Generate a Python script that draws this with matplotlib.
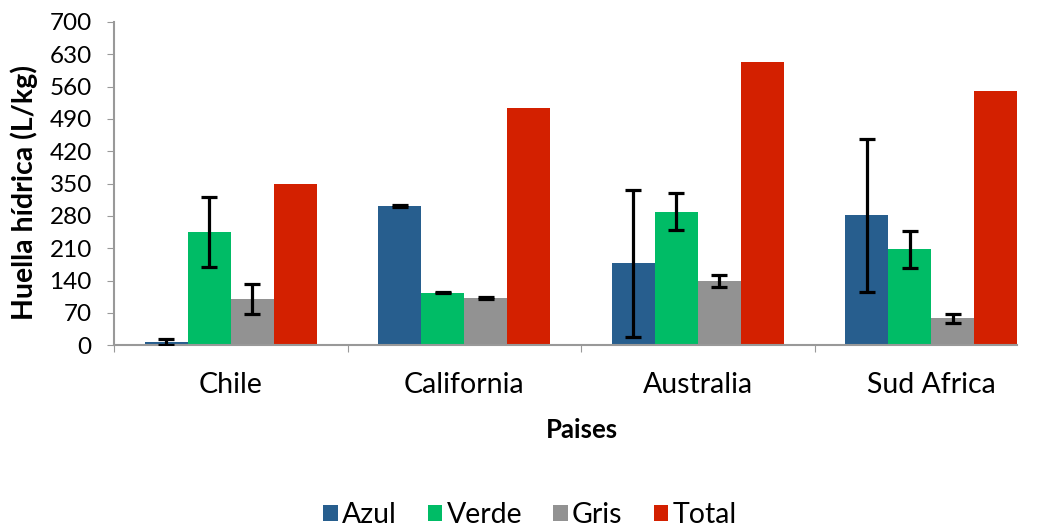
import matplotlib
matplotlib.use("Agg")
import matplotlib.pyplot as plt
import numpy as np

categories = ["Chile", "California", "Australia", "Sud Africa"]
series_names = ["Azul", "Verde", "Gris", "Total"]
azul = [7, 301, 177, 281]
verde = [245, 114, 289, 208]
gris = [100, 102, 139, 58]
total = [350, 513, 613, 551]
azul_err = [7, 2, 159, 165]
verde_err = [75, 2, 40, 40]
gris_err = [33, 2, 12, 10]
total_err = [None, None, None, None]
colors = ["#275E8E", "#00BC66", "#929292", "#D32000"]
yticks = [0, 70, 140, 210, 280, 350, 420, 490, 560, 630, 700]

plt.rcParams['font.family'] = ['Lato', 'DejaVu Sans']

fig = plt.figure(figsize=(10.37, 5.31), dpi=100)
ax = fig.add_axes([0.110, 0.350, 0.871, 0.6086])

x = np.arange(len(categories))
w = 0.184
values = [azul, verde, gris, total]
errs = [azul_err, verde_err, gris_err, total_err]
for i, (vals, err, c, name) in enumerate(zip(values, errs, colors, series_names)):
    pos = x + (i - 1.5) * w
    ax.bar(pos, vals, width=w, color=c, label=name, zorder=2)
    if err[0] is not None:
        ax.errorbar(pos, vals, yerr=err, fmt='none', ecolor='black',
                    elinewidth=2.3, capsize=6, capthick=2.3, zorder=3)

ax.set_ylim(0, 700)
ax.set_xlim(-0.5, 3 + 2 * w)
ax.set_yticks(yticks)
ax.set_yticklabels([str(v) for v in yticks], fontsize=17.5)
ax.set_xticks([-0.5, 0.5, 1.5, 2.5])
ax.set_xticklabels([])
ax.set_xticks(x, minor=True)
ax.set_xticklabels(categories, minor=True, fontsize=20.5)
ax.tick_params(axis='x', which='major', length=5, color='#999999', direction='out')
ax.tick_params(axis='x', which='minor', length=0, pad=19.5)
ax.tick_params(axis='y', length=5, color='#999999', direction='out', pad=11)

for s in ['top', 'right']:
    ax.spines[s].set_visible(False)
for s in ['left', 'bottom']:
    ax.spines[s].set_color('#999999')
    ax.spines[s].set_linewidth(1.5)

fig.text(24 / 1037, 1 - 193 / 531, "Huella hídrica (L/kg)", fontsize=20.5, fontweight='bold',
         rotation=90, ha='center', va='center')
fig.text(0.5613, 1 - 430 / 531, "Paises", fontsize=18.5, fontweight='bold',
         ha='center', va='center')

leg = fig.legend(loc='center', bbox_to_anchor=(0.511, 1 - 515 / 531), ncol=4, frameon=False,
                 fontsize=20.5, handlelength=0.5, handleheight=0.5, handletextpad=0.15,
                 columnspacing=1.1)

fig.savefig("out.png", dpi=100)
